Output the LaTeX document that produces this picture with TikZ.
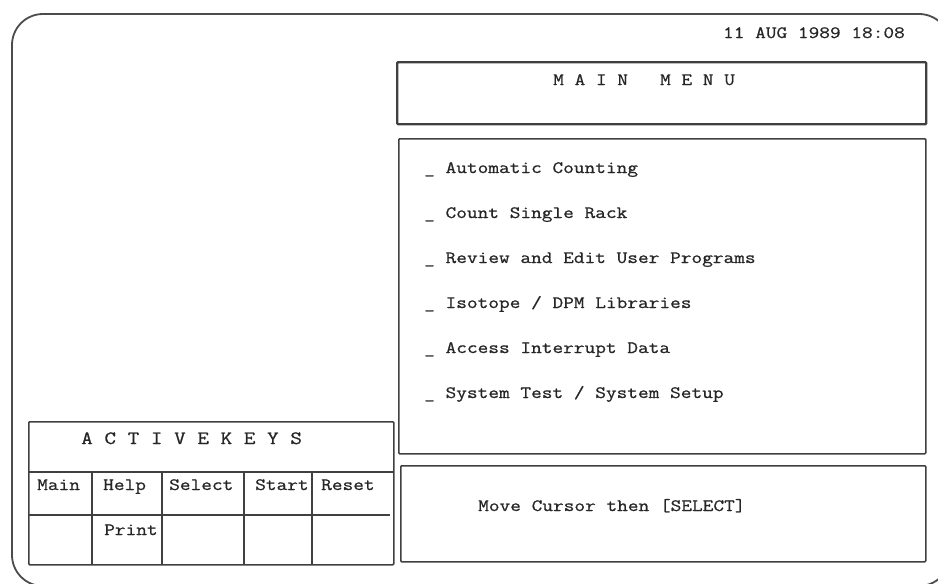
\documentclass[tikz,border=0pt]{standalone}
\usepackage{fontspec}
\setmonofont[FakeStretch=1.2, FakeBold=0.8]{Latin Modern Mono}
\usetikzlibrary{positioning}

\begin{document}
\begin{tikzpicture}[
  x=1pt, y=-1pt,
  screen/.style={draw=black!70, line width=1.8pt, rounded corners=31pt},
  panel/.style={
    draw=black!75, line width=1.5pt, rounded corners=1pt,
    anchor=north west, inner sep=0pt
  },
  heavy/.style={panel, line width=2.4pt},
  grid/.style={draw=black!75, line width=1.5pt},
  mono/.style={
    font=\ttfamily\fontsize{17.3}{20}\selectfont,
    text=black!85, inner sep=0pt, anchor=base west
  },
  wide/.style={mono, font=\ttfamily\fontsize{18.8}{22}\selectfont}
]
\useasboundingbox (0,0) rectangle (938,584);
\clip (0,0) rectangle (938,584);

% Screen outline
\draw[screen] (12,14) rectangle (950,586);

% Date / time stamp
\node[mono, anchor=base east] (stamp) at (905,38) {11 AUG 1989 18:08};

% Title bar
\node[heavy, minimum width=529pt, minimum height=62pt] (title) at (396,61) {};
\node[mono] (titletext) at (553,85) {M A I N\ \ \ M E N U};

% Menu choices
\node[panel, minimum width=527pt, minimum height=315pt] (menu) at (398,138) {};
\node[mono] (auto)      at (424,173) {\_ Automatic Counting};
\node[mono] (single)    at (424,218) {\_ Count Single Rack};
\node[mono] (review)    at (424,263) {\_ Review and Edit User Programs};
\node[mono] (isotope)   at (424,308) {\_ Isotope / DPM Libraries};
\node[mono] (interrupt) at (424,353) {\_ Access Interrupt Data};
\node[mono] (systest)   at (424,398) {\_ System Test / System Setup};

% Prompt line
\node[panel, minimum width=525pt, minimum height=96pt] (prompt) at (400,465) {};
\node[mono] (prompttext) at (478,511) {Move Cursor then [SELECT]};

% Key table
\node[panel, minimum width=365pt, minimum height=143pt] (keys) at (28,421) {};
\node[wide] (keystitle) at (81,444) {A C T I V E K E Y S};
\draw[grid] (28,472) -- (393,472);
\draw[grid] (28,515) -- (390,515);
\draw[grid] (92,472) -- (92,564);
\draw[grid] (162,472) -- (162,564);
\draw[grid] (244,472) -- (244,564);
\draw[grid] (312,472) -- (312,564);

\node[mono] (kmain)   at (37,490)  {Main};
\node[mono] (khelp)   at (103,490) {Help};
\node[mono] (kselect) at (169,490) {Select};
\node[mono] (kstart)  at (255,490) {Start};
\node[mono] (kreset)  at (321,490) {Reset};
\node[mono] (kprint)  at (104,535) {Print};

\end{tikzpicture}
\end{document}
